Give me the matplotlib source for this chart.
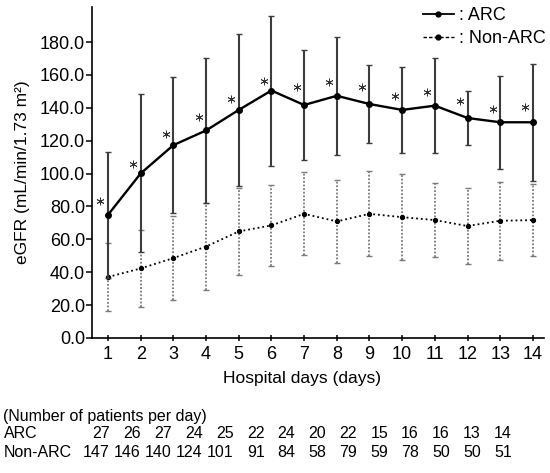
import numpy as np
import matplotlib
matplotlib.use("Agg")
import matplotlib.pyplot as plt
from matplotlib.lines import Line2D

plt.rcParams['font.family'] = ['Liberation Sans', 'DejaVu Sans']

# data
days = np.arange(1, 15)
arc_mean = [74.9, 100.1, 117.3, 126.2, 138.7, 150.5, 141.7, 147.3, 142.3, 138.7, 141.3, 133.8, 131.2, 131.2]
arc_sd = [38.2, 48.0, 41.3, 44.0, 46.2, 45.6, 33.3, 36.0, 23.5, 25.9, 28.9, 16.3, 28.3, 35.6]
non_mean = [37.1, 42.3, 48.6, 55.6, 64.8, 68.5, 75.5, 70.9, 75.5, 73.5, 71.7, 68.1, 71.3, 71.7]
non_sd = [20.6, 23.2, 25.5, 26.6, 26.6, 24.8, 25.3, 25.4, 25.9, 26.3, 22.5, 22.9, 23.7, 21.9]
star_y = [83.6, 106.1, 124.2, 134.2, 145.3, 156.3, 152.5, 155.9, 152.5, 146.9, 149.5, 144.4, 139.4, 140.5]
n_arc = [27, 26, 27, 24, 25, 22, 24, 20, 22, 15, 16, 16, 13, 14]
n_non = [147, 146, 140, 124, 101, 91, 84, 58, 79, 59, 78, 50, 50, 51]
yticks = np.arange(0, 181, 20)

W, H = 550, 473
fig = plt.figure(figsize=(W / 100, H / 100), dpi=100)
ax = fig.add_axes([92 / W, 1 - 338 / H, (544 - 92) / W, (338 - 7) / H])

# Non-ARC (dotted)
eb = ax.errorbar(days, non_mean, yerr=non_sd, color='black', linestyle=':', linewidth=1.3,
                 marker='o', markersize=2.8, ecolor='#7a7a7a', elinewidth=1.3, capsize=2, capthick=1,
                 zorder=2)
eb[2][0].set_linestyle((0, (1, 1)))

# ARC (solid)
ax.errorbar(days, arc_mean, yerr=arc_sd, color='black', linestyle='-', linewidth=1.7,
            marker='o', markersize=4, ecolor='#3c3c3c', elinewidth=1.5, capsize=2.5, capthick=1,
            zorder=3)

# significance markers
ax.plot(days - 0.23, star_y, linestyle='none', marker=(6, 2, 0), markersize=5.5,
        markeredgewidth=0.6, color='#333333', zorder=4)

ax.set_xlim(0.51, 14.34)
ax.set_ylim(0, 201.3)
ax.set_xticks(days)
ax.set_yticks(yticks)
ax.set_yticklabels([f'{v:.1f}' for v in yticks])
ax.spines['top'].set_visible(False)
ax.spines['right'].set_visible(False)
ax.spines['left'].set_linewidth(1.2)
ax.spines['bottom'].set_linewidth(1.2)
ax.tick_params(axis='y', direction='out', length=4, width=1.1, pad=1, labelsize=13)
ax.tick_params(axis='x', direction='inout', length=5, width=1.1, pad=3, labelsize=13)

ax.set_xlabel('Hospital days (days)', fontsize=12.5)
ax.xaxis.set_label_coords((302 - 92) / 452, -(371 - 338) / 331)
ax.set_ylabel('eGFR (mL/min/1.73 m\u00b2)', fontsize=12.5)
ax.yaxis.set_label_coords((30 - 92) / 452, 0.5)

handles = [
    Line2D([], [], color='black', linestyle='-', linewidth=1.3, marker='o', markersize=3.5),
    Line2D([], [], color='black', linestyle=(0, (2.5, 1.5)), linewidth=1.0, marker='o', markersize=3.5),
]
fig.legend(handles, [': ARC', ': Non-ARC'], loc='upper right', bbox_to_anchor=(546 / W, 1 - 7 / H),
           frameon=False, fontsize=13, handlelength=1.7, handletextpad=0.3,
           labelspacing=0.35, borderpad=0, borderaxespad=0)

# patient count table below the chart
fig.text(3 / W, 1 - 416 / H, '(Number of patients per day)', fontsize=11.5, va='center')
fig.text(4 / W, 1 - 434 / H, 'ARC', fontsize=11.5, va='center')
fig.text(4 / W, 1 - 452 / H, 'Non-ARC', fontsize=11.5, va='center')
for i in range(len(days)):
    x = (110 + i * 30.9) / W
    fig.text(x, 1 - 434 / H, str(n_arc[i]), fontsize=11.5, va='center', ha='right')
    fig.text(x, 1 - 452 / H, str(n_non[i]), fontsize=11.5, va='center', ha='right')

fig.savefig('out.png', dpi=100)
